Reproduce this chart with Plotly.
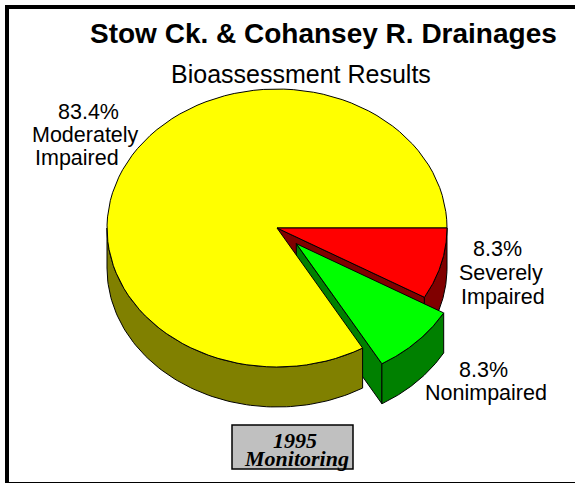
import numpy as np
import plotly.graph_objects as go

# Data
categories = ["Severely Impaired", "Nonimpaired", "Moderately Impaired"]
values = [8.3, 8.3, 83.4]
pct_labels = ["8.3%", "8.3%", "83.4%"]
title_text = "Stow Ck. & Cohansey R. Drainages"
subtitle_text = "Bioassessment Results"
badge_lines = ["1995", "Monitoring"]

W, H = 575, 483
CX, CY, RX, RY, DEPTH = 277.0, 228.0, 170.0, 139.0, 40.0
EXPLODE = 0.16
TOP = {"Severely Impaired": "#FF0000", "Nonimpaired": "#00FF00", "Moderately Impaired": "#FFFF00"}
SIDE = {"Severely Impaired": "#800000", "Nonimpaired": "#008000", "Moderately Impaired": "#808000"}

total = sum(values)
edges = np.concatenate([[0.0], np.cumsum(values)]) / total * 2 * np.pi
span = {c: (edges[i], edges[i + 1]) for i, c in enumerate(categories)}


def offset(cat):
    if cat != "Nonimpaired":
        return 0.0, 0.0
    mid = sum(span[cat]) / 2
    return EXPLODE * np.cos(mid), EXPLODE * np.sin(mid)


def arc(cat, a0=None, a1=None):
    s = span[cat]
    a0 = s[0] if a0 is None else a0
    a1 = s[1] if a1 is None else a1
    t = np.linspace(a0, a1, 90)
    ox, oy = offset(cat)
    return CX + RX * (ox + np.cos(t)), CY + RY * (oy + np.sin(t))


def apex(cat):
    ox, oy = offset(cat)
    return CX + RX * ox, CY + RY * oy


def poly(x, y, color, name):
    return go.Scatter(x=list(x) + [x[0]], y=list(y) + [y[0]], mode="lines", fill="toself",
                      fillcolor=color, line=dict(color="black", width=1), name=name,
                      hoverinfo="skip", showlegend=False)


def top_face(cat):
    x, y = arc(cat)
    ax, ay = apex(cat)
    return poly(np.r_[ax, x], np.r_[ay, y], TOP[cat], cat + " top")


def outer_wall(cat, a0=None, a1=None):
    x, y = arc(cat, a0, a1)
    return poly(np.r_[x, x[::-1]], np.r_[y, y[::-1] + DEPTH], SIDE[cat], cat + " wall")


def end_face(cat):
    ax, ay = apex(cat)
    a = span[cat][1]
    ox, oy = offset(cat)
    ex, ey = CX + RX * (ox + np.cos(a)), CY + RY * (oy + np.sin(a))
    return poly([ax, ex, ex, ax], [ay, ey, ey + DEPTH, ay + DEPTH], SIDE[cat], cat + " face")


SEV, NON, MOD = categories
fig = go.Figure()
fig.add_trace(end_face(SEV))
fig.add_trace(outer_wall(SEV))
fig.add_trace(end_face(NON))
fig.add_trace(outer_wall(MOD, span[MOD][0], np.pi))
fig.add_trace(top_face(MOD))
fig.add_trace(top_face(SEV))
fig.add_trace(outer_wall(NON))
fig.add_trace(top_face(NON))

ann = []


def text(x, y, s, size, family="Liberation Sans", bold=False, italic=False):
    if bold:
        s = f"<b>{s}</b>"
    if italic:
        s = f"<i>{s}</i>"
    ann.append(dict(x=x, y=y, xref="x", yref="y", text=s, showarrow=False, xanchor="center",
                    yanchor="middle", font=dict(family=family, size=size, color="black"),
                    borderpad=0, borderwidth=0))


text(323.5, 33, title_text, 28, bold=True)
text(300.5, 74, subtitle_text, 25)
text(88, 112, pct_labels[2], 21.5)
text(85, 135, "Moderately", 21.5)
text(77, 158, "Impaired", 21.5)
text(497.5, 249, pct_labels[0], 21.5)
text(501, 273, "Severely", 21.5)
text(503, 297, "Impaired", 21.5)
text(483, 370, pct_labels[1], 21.5)
text(486, 393, "Nonimpaired", 21.5)
text(295, 440, badge_lines[0], 22, family="Liberation Serif", bold=True, italic=True)
text(296, 458, badge_lines[1], 22, family="Liberation Serif", bold=True, italic=True)

shapes = [
    dict(type="rect", x0=232, y0=425, x1=353, y1=469, xref="x", yref="y",
         fillcolor="#C0C0C0", line=dict(color="black", width=1.5), layer="below"),
    dict(type="rect", x0=5, y0=5, x1=9, y1=H, xref="x", yref="y", fillcolor="black", line_width=0),
    dict(type="rect", x0=5, y0=5, x1=W, y1=9, xref="x", yref="y", fillcolor="black", line_width=0),
    dict(type="rect", x0=5, y0=482, x1=W, y1=483, xref="x", yref="y", fillcolor="black", line_width=0),
]

fig.update_layout(
    width=W, height=H, margin=dict(l=0, r=0, t=0, b=0), autosize=False,
    paper_bgcolor="white", plot_bgcolor="white", showlegend=False,
    annotations=ann, shapes=shapes,
    xaxis=dict(range=[0, W], visible=False, fixedrange=True),
    yaxis=dict(range=[H, 0], visible=False, fixedrange=True),
)
fig.write_html("out.html", config={"displayModeBar": False},
               post_script="document.body.style.margin='0';document.documentElement.style.overflow='hidden';")
